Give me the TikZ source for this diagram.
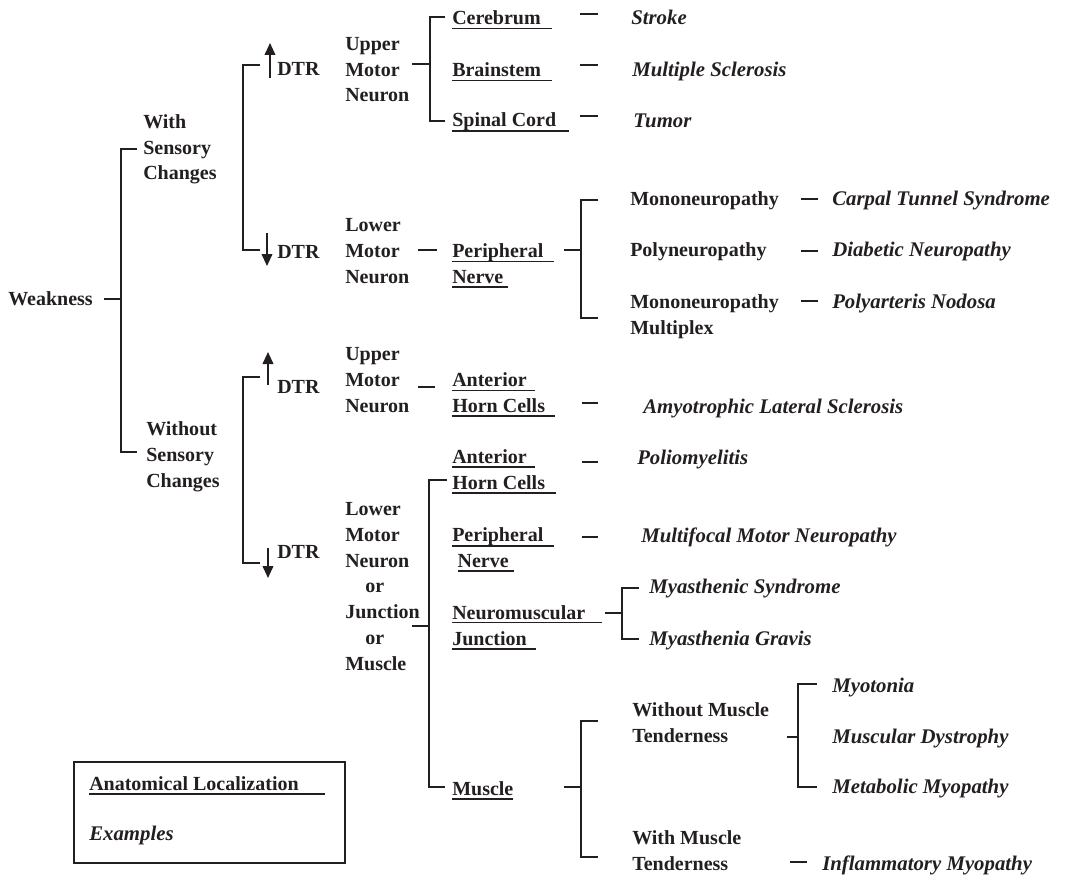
\documentclass[tikz,border=0pt]{standalone}
\usepackage{fontspec}
\setmainfont{Liberation Serif}
\usetikzlibrary{arrows.meta,calc}
\definecolor{ink}{HTML}{231F20}
\begin{document}
\begin{tikzpicture}[x=0.75pt,y=-0.75pt,
  ln/.style={draw=ink,line width=1.5pt},
  ul/.style={draw=ink,line width=1.3pt},
  lbl/.style={anchor=base west,inner sep=0pt,align=left,text=ink,font=\fontsize{15}{19.3}\selectfont\bfseries},
  ex/.style={anchor=base west,inner sep=0pt,text=ink,font=\fontsize{15.6}{19.3}\selectfont\bfseries\itshape},
  dtrarrow/.style={draw=ink,line width=1.3pt,-{Triangle[length=9pt,width=8pt]}},
  legend/.style={draw=ink,line width=1.2pt}
]
\useasboundingbox (0,0) rectangle (1066,877);

% ---------- nodes (multi-line nodes are placed by the baseline of their last line) ----------
\node[lbl] (weak) at (8,305) {Weakness};
\node[lbl] (with) at (143,180) {With\\Sensory\\Changes};
\node[lbl] (without) at (146,487) {Without\\Sensory\\Changes};

\node[lbl] (dtr1) at (277,76) {DTR};
\node[lbl] (dtr2) at (277,258) {DTR};
\node[lbl] (dtr3) at (277,393) {DTR};
\node[lbl] (dtr4) at (277,558) {DTR};

\node[lbl] (umn1) at (345,102) {Upper\\Motor\\Neuron};
\node[lbl] (lmn1) at (345,283) {Lower\\Motor\\Neuron};
\node[lbl] (umn2) at (345,412) {Upper\\Motor\\Neuron};
\node[lbl] (lmn2) at (345,670) {Lower\\Motor\\Neuron\\\hspace*{15pt}or\\Junction\\\hspace*{15pt}or\\Muscle};

\node[lbl] (cer) at (452,25) {Cerebrum};
\node[lbl] (bra) at (452,77) {Brainstem};
\node[lbl] (spi) at (452,127) {Spinal Cord};
\node[ex] (str) at (631,25) {Stroke};
\node[ex] (ms) at (632,77) {Multiple Sclerosis};
\node[ex] (tum) at (633,128) {Tumor};

\node[lbl] (per1) at (452,283) {Peripheral\\Nerve};
\node[lbl] (mono) at (630,205) {Mononeuropathy};
\node[lbl] (poly) at (630,257) {Polyneuropathy};
\node[lbl] (monom) at (630,334) {Mononeuropathy\\Multiplex};
\node[ex] (ctc) at (832,205) {Carpal Tunnel Syndrome};
\node[ex] (dn) at (832,257) {Diabetic Neuropathy};
\node[ex] (pn) at (832,308) {Polyarteris Nodosa};

\node[lbl] (ant1) at (452,412) {Anterior\\Horn Cells};
\node[ex] (als) at (643,413) {Amyotrophic Lateral Sclerosis};

\node[lbl] (ant2) at (452,489) {Anterior\\Horn Cells};
\node[ex] (polio) at (637,464) {Poliomyelitis};
\node[lbl] (per2) at (452,567) {Peripheral\\\hspace*{4pt}Nerve};
\node[ex] (mmn) at (641,542) {Multifocal Motor Neuropathy};
\node[lbl] (nmj) at (452,645) {Neuromuscular\\Junction};
\node[ex] (mys) at (649,593) {Myasthenic Syndrome};
\node[ex] (mg) at (649,645) {Myasthenia Gravis};

\node[lbl] (mus) at (452,795) {Muscle};
\node[lbl] (wo) at (632,742) {Without Muscle\\Tenderness};
\node[lbl] (wi) at (632,870) {With Muscle\\Tenderness};
\node[ex] (myo) at (832,692) {Myotonia};
\node[ex] (md) at (832,743) {Muscular Dystrophy};
\node[ex] (mm) at (832,793) {Metabolic Myopathy};
\node[ex] (im) at (822,870) {Inflammatory Myopathy};

% legend
\node[legend,minimum width=271*0.75pt,minimum height=101*0.75pt,inner sep=0pt] (leg) at (209.5,812.5) {};
\node[lbl] (anat) at (89,790) {Anatomical Localization};
\node[ex] (exa) at (89,840) {Examples};

% ---------- underlines ----------
\draw[ul] (452,28.5) -- (552,28.5);
\draw[ul] (452,80.5) -- (552,80.5);
\draw[ul] (452,131) -- (569,131);
\draw[ul] (452,261.5) -- (554,261.5);
\draw[ul] (452,287) -- (508,287);
\draw[ul] (452,390.5) -- (535,390.5);
\draw[ul] (452,416) -- (555,416);
\draw[ul] (452,467) -- (535,467);
\draw[ul] (452,493) -- (556,493);
\draw[ul] (452,546) -- (554,546);
\draw[ul] (458,571) -- (514,571);
\draw[ul] (452,622.5) -- (602,622.5);
\draw[ul] (452,649) -- (536,649);
\draw[ul] (452,799) -- (513,799);
\draw[ul] (89,794) -- (325,794);

% ---------- DTR arrows ----------
\draw[dtrarrow] ($(dtr1.base west)+(-7,2)$) -- ++(0,-35);
\draw[dtrarrow] ($(dtr2.base west)+(-10,-25)$) -- ++(0,33);
\draw[dtrarrow] ($(dtr3.base west)+(-9,-8)$) -- ++(0,-33);
\draw[dtrarrow] ($(dtr4.base west)+(-9,-10)$) -- ++(0,30);

% ---------- connectors ----------
% Weakness fork
\coordinate (wk) at (104,299);
\coordinate (b1m) at (121,299);
\coordinate (b1t) at (121,149);
\coordinate (b1b) at (121,452);
\draw[ln] (wk) -- (b1m);
\draw[ln] ($(b1t)+(16,0)$) -- (b1t) -- (b1b) -- ++(16,0);

% DTR bars
\coordinate (b2t) at (243,65);
\coordinate (b2b) at (243,250);
\draw[ln] ($(b2t)+(17,0)$) -- (b2t) -- (b2b) -- ++(17,0);
\coordinate (b3t) at (243,377);
\coordinate (b3b) at (243,563);
\draw[ln] ($(b3t)+(17,0)$) -- (b3t) -- (b3b) -- ++(17,0);

% UMN1 fork
\coordinate (u1s) at (412,64);
\coordinate (u1m) at (430,64);
\coordinate (u1t) at (430,17);
\coordinate (u1b) at (430,121);
\draw[ln] (u1s) -- (u1m);
\draw[ln] ($(u1t)+(15,0)$) -- (u1t) -- (u1b) -- ++(15,0);
\draw[ln] (580,14) -- (598,14);
\draw[ln] (580,65) -- (598,65);
\draw[ln] (580,116) -- (598,116);

% LMN1
\draw[ln] (418,250) -- (437,250);
\coordinate (p1s) at (564,250);
\coordinate (p1m) at (581,250);
\coordinate (p1t) at (581,200);
\coordinate (p1b) at (581,318);
\draw[ln] (p1s) -- (p1m);
\draw[ln] ($(p1t)+(17,0)$) -- (p1t) -- (p1b) -- ++(17,0);
\draw[ln] (801,199) -- (818,199);
\draw[ln] (801,251) -- (818,251);
\draw[ln] (801,301) -- (818,301);

% UMN2
\draw[ln] (418,387) -- (435,387);
\draw[ln] (582,403) -- (598,403);

% LMN2 fork
\coordinate (l2s) at (412,626);
\coordinate (l2m) at (429,626);
\coordinate (l2t) at (429,480);
\coordinate (l2b) at (429,787);
\draw[ln] (l2s) -- (l2m);
\draw[ln] ($(l2t)+(18,0)$) -- (l2t) -- (l2b) -- ++(16,0);
\draw[ln] (582,462) -- (598,462);
\draw[ln] (582,537) -- (598,537);

% NMJ fork
\coordinate (n1s) at (605,613);
\coordinate (n1m) at (622,613);
\coordinate (n1t) at (622,588);
\coordinate (n1b) at (622,639);
\draw[ln] (n1s) -- (n1m);
\draw[ln] ($(n1t)+(17,0)$) -- (n1t) -- (n1b) -- ++(17,0);

% Muscle fork
\coordinate (m1s) at (564,787);
\coordinate (m1m) at (581,787);
\coordinate (m1t) at (581,721);
\coordinate (m1b) at (581,857);
\draw[ln] (m1s) -- (m1m);
\draw[ln] ($(m1t)+(17,0)$) -- (m1t) -- (m1b) -- ++(17,0);

% Without muscle tenderness fork
\coordinate (w1s) at (787,737);
\coordinate (w1m) at (798,737);
\coordinate (w1t) at (798,684);
\coordinate (w1b) at (798,787);
\draw[ln] (w1s) -- (w1m);
\draw[ln] ($(w1t)+(19,0)$) -- (w1t) -- (w1b) -- ++(19,0);

% With muscle tenderness
\draw[ln] (790,862) -- (807,862);
\end{tikzpicture}
\end{document}
